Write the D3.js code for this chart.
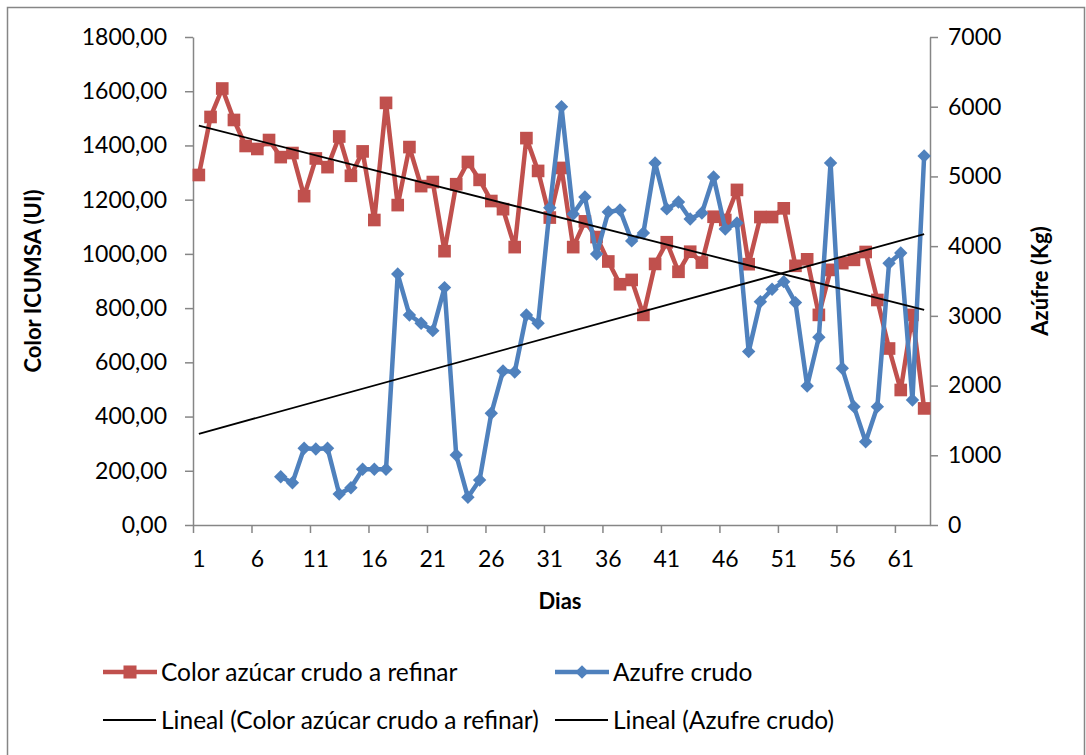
<!DOCTYPE html>
<html><head><meta charset="utf-8">
<script src="https://cdn.jsdelivr.net/npm/d3@7"></script>
<style>
body{margin:0;background:#fff}
text{font-family:Lato,"Open Sans",sans-serif;fill:#000}
</style>
</head><body>
<svg id="c" width="1086" height="755"></svg>
<script>
const days = d3.range(1, 64);
const labelDays = [1, 6, 11, 16, 21, 26, 31, 36, 41, 46, 51, 56, 61];
const colorValues = [1291,1505,1610,1494,1398,1387,1420,1357,1372,1213,
  1352,1320,1433,1288,1378,1125,1557,1180,1394,1250,
  1265,1010,1257,1339,1273,1195,1165,1025,1427,1306,
  1134,1317,1025,1120,1062,972,888,904,775,963,
  1043,934,1008,968,1137,1125,1236,962,1136,1136,
  1168,956,980,775,941,966,978,1007,830,651,
  498,775,430];
const azufreValues = [null,null,null,null,null,null,null,693,607,1100,
  1090,1100,445,535,799,799,799,3600,3013,2894,
  2788,3405,1004,397,646,1602,2209,2195,3013,2894,
  4550,6000,4462,4706,3888,4491,4519,4075,4189,5194,
  4534,4634,4390,4476,4993,4247,4333,2487,3204,3381,
  3491,3190,1994,2693,5194,2248,1698,1195,1698,3755,
  3902,1793,5294];
const leftTicks = [0,200,400,600,800,1000,1200,1400,1600,1800];
const rightTicks = [0,1000,2000,3000,4000,5000,6000,7000];
const seriesNames = ["Color azúcar crudo a refinar","Azufre crudo",
  "Lineal (Color azúcar crudo a refinar)","Lineal (Azufre crudo)"];

const RED = "#C0504D", BLUE = "#4F81BD", AX = "#868686";
const svg = d3.select("#c");
svg.append("rect").attr("x",7.5).attr("y",7.5).attr("width",1077).attr("height",770)
  .attr("fill","#fff").attr("stroke",AX).attr("stroke-width",1.5);

const m = {l:193, r:930, t:37, b:525};
const x = d3.scaleBand().domain(days).range([m.l, m.r]);
const xc = d => x(d) + x.bandwidth()/2;
const xLin = d3.scaleLinear().domain([0.5, 63.5]).range([m.l, m.r]);
const yL = d3.scaleLinear().domain([0,1800]).range([m.b, m.t]);
const yR = d3.scaleLinear().domain([0,7000]).range([m.b, m.t]);

function styleAxis(g){
  g.selectAll("path,line").attr("stroke",AX).attr("stroke-width",1.5);
  g.selectAll("text").style("font-size","23px").attr("fill","#000");
}
// left axis
svg.append("g").attr("transform",`translate(${m.l},0)`)
  .call(d3.axisLeft(yL).tickValues(leftTicks).tickSize(8).tickSizeOuter(0).tickPadding(18)
    .tickFormat(d => d3.format(".2f")(d).replace(".", ",")))
  .call(styleAxis);
// right axis
svg.append("g").attr("transform",`translate(${m.r},0)`)
  .call(d3.axisRight(yR).tickValues(rightTicks).tickSize(8).tickSizeOuter(0).tickPadding(10)
    .tickFormat(d3.format("d")))
  .call(styleAxis);
// bottom axis tick marks at category boundaries
svg.append("g").attr("transform",`translate(0,${m.b})`)
  .call(d3.axisBottom(xLin).tickValues(labelDays.map(d => d - 0.5)).tickSize(8).tickSizeOuter(0).tickFormat(""))
  .call(styleAxis);
// bottom labels
svg.append("g").attr("transform",`translate(0,${m.b})`)
  .call(d3.axisBottom(x).tickValues(labelDays).tickSize(0).tickPadding(26))
  .call(g => g.select(".domain").remove())
  .call(styleAxis);

// axis titles
svg.append("text").attr("x",560).attr("y",609).attr("text-anchor","middle")
  .style("font-size","22px").style("font-weight","bold").text("Dias");
svg.append("text").attr("transform","translate(41,281) rotate(-90)").attr("text-anchor","middle")
  .style("font-size","22px").style("font-weight","bold").text("Color ICUMSA (UI)");
svg.append("text").attr("transform","translate(1048,281) rotate(-90)").attr("text-anchor","middle")
  .style("font-size","22px").style("font-weight","bold").text("Azúfre (Kg)");

// series
const redData = days.map((d,i) => ({d, v: colorValues[i]}));
const blueData = days.map((d,i) => ({d, v: azufreValues[i]})).filter(p => p.v !== null);

svg.append("path").datum(redData).attr("fill","none").attr("stroke",RED).attr("stroke-width",4.5)
  .attr("stroke-linejoin","round")
  .attr("d", d3.line().x(p => xc(p.d)).y(p => yL(p.v)));
svg.append("g").selectAll("path").data(redData).join("path")
  .attr("transform", p => `translate(${xc(p.d)},${yL(p.v)})`)
  .attr("d", d3.symbol(d3.symbolSquare, 160)).attr("fill",RED);

svg.append("path").datum(blueData).attr("fill","none").attr("stroke",BLUE).attr("stroke-width",4.5)
  .attr("stroke-linejoin","round")
  .attr("d", d3.line().x(p => xc(p.d)).y(p => yR(p.v)));
svg.append("g").selectAll("path").data(blueData).join("path")
  .attr("transform", p => `translate(${xc(p.d)},${yR(p.v)}) rotate(45)`)
  .attr("d", d3.symbol(d3.symbolSquare, 90)).attr("fill",BLUE);

// linear trendlines (least squares)
function linreg(pts){
  const mx = d3.mean(pts, p => p.d), my = d3.mean(pts, p => p.v);
  const sxy = d3.sum(pts, p => (p.d-mx)*(p.v-my)), sxx = d3.sum(pts, p => (p.d-mx)**2);
  const b = sxy/sxx; return {b, a: my - b*mx};
}
const rr = linreg(redData), br = linreg(blueData);
const ends = [1, 63];
svg.append("path").datum(ends.map(d => ({d, v: rr.a + rr.b*d}))).attr("fill","none")
  .attr("stroke","#000").attr("stroke-width",1.8)
  .attr("d", d3.line().x(p => xc(p.d)).y(p => yL(p.v)));
svg.append("path").datum(ends.map(d => ({d, v: br.a + br.b*d}))).attr("fill","none")
  .attr("stroke","#000").attr("stroke-width",1.8)
  .attr("d", d3.line().x(p => xc(p.d)).y(p => yR(p.v)));

// legend
const lg = svg.append("g");
function legendItem(x0, y0, name, type){
  const g = lg.append("g");
  if (type === "red" || type === "blue"){
    const c = type === "red" ? RED : BLUE;
    g.append("line").attr("x1",x0).attr("x2",x0+54).attr("y1",y0).attr("y2",y0)
      .attr("stroke",c).attr("stroke-width",4.5);
    g.append("path").attr("transform",`translate(${x0+27},${y0})` + (type==="blue" ? " rotate(45)" : ""))
      .attr("d", d3.symbol(d3.symbolSquare, type==="red"?170:90)).attr("fill",c);
  } else {
    g.append("line").attr("x1",x0).attr("x2",x0+53).attr("y1",y0).attr("y2",y0)
      .attr("stroke","#000").attr("stroke-width",1.8);
  }
  g.append("text").attr("x",x0+58).attr("y",y0).attr("dy","0.35em")
    .style("font-size","24.5px").text(name);
}
legendItem(103, 672, seriesNames[0], "red");
legendItem(555, 672, seriesNames[1], "blue");
legendItem(103, 720, seriesNames[2], "black");
legendItem(555, 720, seriesNames[3], "black");
</script>
</body></html>
